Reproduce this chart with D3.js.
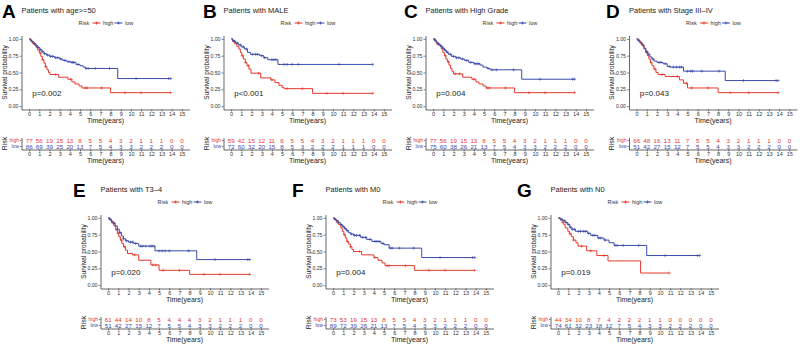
<!doctype html>
<html lang="en">
<head>
<meta charset="utf-8">
<title>KM panels</title>
<script src="https://cdn.jsdelivr.net/npm/d3@7/dist/d3.min.js"></script>
<style>
  body { margin: 0; background: #fff; }
  svg { display: block; font-family: "Liberation Sans", Arial, sans-serif; }
</style>
</head>
<body>
<svg></svg>
<script>
var width = 800, height = 344;
var red = "#E5392C", blue = "#3B4BAA";

// ---- data ----
var letters = ["A", "B", "C", "D", "E", "F", "G"];
var titles = ["Patients with age>=50", "Patients with MALE", "Patients with High Grade",
  "Patients with Stage III\u2013IV", "Patients with T3\u20134", "Patients with M0", "Patients with N0"];
var pvals = ["p=0.002", "p<0.001", "p=0.004", "p=0.043", "p=0.020", "p=0.004", "p=0.019"];
var timeTicks = d3.range(0, 16);

// survival steps [time, survival] per panel
var highA = [[0,1],[0.15,0.97],[0.3,0.94],[0.5,0.91],[0.7,0.87],[0.85,0.83],[1.0,0.79],[1.15,0.74],[1.3,0.69],[1.45,0.64],[1.6,0.59],[1.75,0.54],[1.9,0.50],[2.05,0.47],[2.9,0.43],[3.8,0.40],[4.2,0.36],[4.5,0.33],[4.9,0.30],[5.2,0.27],[8.0,0.20],[13.9,0.20]];
var lowA = [[0,1],[0.1,0.98],[0.25,0.96],[0.45,0.93],[0.65,0.90],[0.85,0.87],[1.05,0.84],[1.25,0.81],[1.45,0.78],[1.7,0.76],[2.0,0.74],[2.5,0.72],[3.0,0.70],[3.3,0.68],[3.7,0.66],[4.1,0.65],[4.6,0.62],[5.0,0.60],[5.3,0.58],[5.55,0.56],[8.7,0.41],[13.9,0.41]];
var censHighA = [0.4,1.1,1.3,1.6,2.6,4.1,5.5,5.7,7.1,9.4,11.0,13.9];
var censLowA = [0.2,0.5,0.7,0.9,1.1,1.3,1.5,1.8,2.1,2.3,2.6,2.8,3.1,3.5,3.9,4.2,4.3,4.4,4.8,5.6,5.8,6.5,7.9,10.5,13.7,13.9];

var highB = [[0,1],[0.15,0.96],[0.35,0.93],[0.55,0.89],[0.75,0.85],[0.9,0.80],[1.05,0.75],[1.2,0.70],[1.4,0.65],[1.55,0.60],[1.75,0.55],[1.95,0.49],[2.9,0.42],[3.9,0.39],[4.3,0.35],[4.7,0.31],[5.0,0.28],[5.2,0.26],[8.0,0.19],[13.9,0.19]];
var lowB = [[0,1],[0.15,0.97],[0.4,0.94],[0.7,0.91],[1.0,0.88],[1.3,0.85],[1.6,0.80],[1.9,0.77],[2.8,0.75],[3.2,0.72],[3.6,0.69],[4.6,0.62],[13.9,0.62]];
var censHighB = [0.3,1.1,1.4,1.7,2.7,4.0,5.5,7.0,9.4,11.0,13.9];
var censLowB = [0.3,0.6,0.9,1.2,1.5,2.1,2.4,2.6,3.0,3.3,4.0,4.2,4.4,5.2,5.5,6.0,6.6,10.6,13.9];

var highC = [[0,1],[0.2,0.96],[0.35,0.93],[0.6,0.90],[0.8,0.85],[0.95,0.80],[1.1,0.75],[1.25,0.70],[1.4,0.66],[1.55,0.61],[1.7,0.56],[1.85,0.52],[2.0,0.48],[2.9,0.43],[3.8,0.40],[4.2,0.36],[4.5,0.33],[4.9,0.30],[5.2,0.27],[8.0,0.20],[13.9,0.20]];
var lowC = [[0,1],[0.1,0.98],[0.3,0.95],[0.5,0.92],[0.7,0.89],[0.9,0.86],[1.1,0.83],[1.3,0.80],[1.5,0.77],[1.8,0.74],[2.2,0.72],[2.7,0.70],[3.1,0.68],[3.5,0.65],[4.0,0.63],[4.6,0.61],[4.9,0.58],[5.3,0.56],[5.6,0.54],[8.7,0.40],[13.9,0.40]];
var censHighC = [0.4,1.2,1.5,2.2,2.6,4.0,5.3,5.5,7.1,9.4,11.0,13.9];
var censLowC = [0.2,0.5,0.8,1.0,1.2,1.4,1.7,2.0,2.3,2.5,2.9,3.3,3.7,4.1,4.3,4.5,5.4,5.8,6.2,7.9,10.5,13.7,13.9];

var highD = [[0,1],[0.15,0.97],[0.35,0.94],[0.55,0.90],[0.75,0.85],[0.9,0.80],[1.05,0.75],[1.2,0.70],[1.35,0.65],[1.5,0.60],[1.7,0.55],[1.9,0.50],[2.1,0.47],[2.8,0.44],[4.2,0.39],[4.6,0.34],[5.0,0.27],[8.0,0.20],[13.9,0.20]];
var lowD = [[0,1],[0.1,0.98],[0.3,0.95],[0.5,0.91],[0.7,0.86],[0.9,0.81],[1.1,0.77],[1.3,0.73],[1.5,0.70],[1.7,0.67],[2.0,0.65],[2.6,0.63],[3.0,0.59],[3.3,0.58],[4.6,0.52],[8.7,0.38],[13.9,0.38]];
var censHighD = [0.4,1.0,1.4,1.8,2.5,4.0,4.9,5.4,7.0,9.2,11.0,13.9];
var censLowD = [0.2,0.6,1.0,1.2,1.6,2.2,2.4,2.8,3.2,3.6,3.9,4.2,4.4,5.0,5.3,5.5,6.4,8.1,10.5,13.7,13.9];

var highE = [[0,1],[0.15,0.97],[0.35,0.93],[0.55,0.88],[0.75,0.82],[0.9,0.77],[1.05,0.72],[1.2,0.67],[1.35,0.62],[1.5,0.57],[1.7,0.52],[1.9,0.47],[2.4,0.45],[3.0,0.37],[4.2,0.30],[5.0,0.22],[8.0,0.16],[13.9,0.16]];
var lowE = [[0,1],[0.1,0.98],[0.3,0.95],[0.5,0.92],[0.7,0.88],[0.9,0.83],[1.1,0.78],[1.3,0.73],[1.5,0.69],[1.7,0.66],[2.0,0.64],[2.5,0.62],[3.0,0.58],[4.6,0.51],[8.7,0.38],[13.9,0.38]];
var censHighE = [0.4,1.0,1.3,1.6,2.6,4.4,4.7,5.4,7.0,9.4,11.0,13.9];
var censLowE = [0.2,0.6,0.9,1.2,1.5,1.8,2.2,2.4,2.7,3.2,3.4,3.7,4.1,4.3,4.5,5.0,5.3,5.6,6.0,7.9,10.5,13.7,13.9];

var highF = [[0,1],[0.15,0.97],[0.35,0.94],[0.55,0.90],[0.75,0.85],[0.9,0.80],[1.05,0.75],[1.2,0.70],[1.35,0.65],[1.5,0.61],[1.7,0.57],[1.85,0.53],[2.0,0.50],[2.8,0.45],[4.0,0.41],[4.4,0.37],[4.8,0.33],[5.1,0.29],[8.0,0.22],[13.9,0.22]];
var lowF = [[0,1],[0.1,0.98],[0.3,0.96],[0.5,0.93],[0.7,0.90],[0.9,0.87],[1.1,0.84],[1.3,0.81],[1.5,0.78],[1.7,0.76],[2.0,0.74],[2.7,0.71],[3.3,0.68],[3.8,0.65],[4.7,0.62],[5.0,0.60],[5.5,0.55],[8.7,0.41],[13.9,0.41]];
var censHighF = [0.4,1.1,1.4,1.7,2.6,4.1,5.3,5.5,7.1,9.4,11.0,13.9];
var censLowF = [0.2,0.5,0.8,1.0,1.2,1.4,1.8,2.1,2.3,2.6,2.9,3.2,3.6,4.1,4.3,4.5,4.9,5.6,5.8,6.5,7.9,10.5,13.7,13.9];

var highG = [[0,1],[0.2,0.97],[0.4,0.93],[0.55,0.90],[0.7,0.85],[0.95,0.80],[1.1,0.76],[1.3,0.72],[1.5,0.67],[1.75,0.63],[1.95,0.58],[2.8,0.51],[3.8,0.44],[4.9,0.36],[8.1,0.18],[10.9,0.18]];
var lowG = [[0,1],[0.2,0.98],[0.45,0.96],[0.7,0.93],[0.95,0.90],[1.15,0.86],[1.35,0.83],[1.7,0.80],[2.9,0.77],[3.2,0.74],[3.9,0.70],[4.5,0.67],[5.0,0.63],[5.5,0.59],[8.7,0.44],[13.9,0.44]];
var censHighG = [0.5,1.2,1.5,2.3,3.2,4.5,10.9];
var censLowG = [0.3,0.6,0.8,1.0,1.2,1.4,1.6,2.0,2.2,2.5,2.7,3.0,3.4,3.6,4.0,4.2,4.6,5.6,5.8,6.4,7.9,10.5,13.7,13.9];

// number at risk, times 0..15
var riskHighA = [77,56,19,15,13,8,5,5,4,3,2,1,1,1,0,0];
var riskLowA  = [86,69,39,25,20,13,7,5,4,3,3,2,2,2,0,0];
var riskHighB = [59,42,15,12,11,6,5,5,4,3,2,1,1,1,0,0];
var riskLowB  = [72,60,32,20,15,8,5,3,2,2,2,1,1,1,0,0];
var riskHighC = [77,56,19,15,13,8,5,5,4,3,2,1,1,1,0,0];
var riskLowC  = [75,60,38,26,21,13,7,5,4,3,3,2,2,2,0,0];
var riskHighD = [66,48,16,13,11,7,5,5,4,3,2,1,1,1,0,0];
var riskLowD  = [51,42,27,15,12,7,5,5,4,3,3,2,2,2,0,0];
var riskHighE = [61,44,14,10,8,5,4,4,4,3,2,1,1,1,0,0];
var riskLowE  = [51,42,27,15,12,7,5,5,4,3,3,2,2,2,0,0];
var riskHighF = [73,53,19,15,13,8,5,5,4,3,2,1,1,1,0,0];
var riskLowF  = [89,72,39,26,21,13,7,5,4,3,3,2,2,2,0,0];
var riskHighG = [44,34,10,8,7,4,2,2,2,1,1,0,0,0,0,0];
var riskLowG  = [74,61,32,23,18,12,7,5,4,3,3,2,2,2,0,0];

var highs = [highA, highB, highC, highD, highE, highF, highG];
var lows = [lowA, lowB, lowC, lowD, lowE, lowF, lowG];
var censHighs = [censHighA, censHighB, censHighC, censHighD, censHighE, censHighF, censHighG];
var censLows = [censLowA, censLowB, censLowC, censLowD, censLowE, censLowF, censLowG];
var riskHighs = [riskHighA, riskHighB, riskHighC, riskHighD, riskHighE, riskHighF, riskHighG];
var riskLows = [riskLowA, riskLowB, riskLowC, riskLowD, riskLowE, riskLowF, riskLowG];

// layout: y-axis x position, row top, letter x
var axXs = [21.5, 223.5, 425.5, 629, 100.5, 325.5, 550.5];
var rowTops = [0, 0, 0, 0, 179, 179, 179];
var letterXs = [2, 203, 404, 606, 73, 292, 517];

var svg = d3.select("svg").attr("width", width).attr("height", height);

function survAt(steps, t) {
  var s = 1;
  steps.forEach(function (d) { if (d[0] <= t) s = d[1]; });
  return s;
}

function styleAxis(g, fs) {
  g.select(".domain").attr("stroke", "#000").attr("stroke-width", 0.6);
  g.selectAll(".tick line").attr("stroke", "#000").attr("stroke-width", 0.5);
  g.selectAll(".tick text").attr("fill", "#333").attr("font-size", fs).attr("font-family", "Liberation Sans, Arial, sans-serif");
}

letters.forEach(function (letter, i) {
  var ax = axXs[i], ty = rowTops[i];
  var g = svg.append("g");

  var x = d3.scaleLinear().domain([-0.75, 15.75]).range([ax, ax + 168]);
  var y = d3.scaleLinear().domain([-0.05, 1.05]).range([ty + 109.5, ty + 35.5]);

  // letter + title
  g.append("text").attr("x", letterXs[i]).attr("y", ty + 17.5)
    .attr("font-size", 19).attr("font-weight", "bold").attr("fill", "#000").text(letter);
  g.append("text").attr("x", ax).attr("y", ty + 12.5)
    .attr("font-size", 7.5).attr("fill", "#222").text(titles[i]);

  // legend
  var ly = ty + 23;
  g.append("text").attr("x", ax + 57).attr("y", ly + 2).attr("font-size", 5.5).attr("fill", "#333").text("Risk");
  [[red, "high", 71], [blue, "low", 93]].forEach(function (l) {
    g.append("line").attr("x1", ax + l[2]).attr("x2", ax + l[2] + 8).attr("y1", ly).attr("y2", ly)
      .attr("stroke", l[0]).attr("stroke-width", 1);
    g.append("path").attr("d", "M-1.6,0h3.2M0,-1.6v3.2")
      .attr("transform", "translate(" + (ax + l[2] + 4) + "," + ly + ")")
      .attr("stroke", l[0]).attr("stroke-width", 0.7);
    g.append("text").attr("x", ax + l[2] + 10.5).attr("y", ly + 2).attr("font-size", 5.5).attr("fill", "#333").text(l[1]);
  });

  // axes
  var yAxis = d3.axisLeft(y).tickValues([0, 0.25, 0.5, 0.75, 1]).tickFormat(d3.format(".2f"))
    .tickSize(2).tickSizeOuter(0).tickPadding(1);
  var gy = g.append("g").attr("transform", "translate(" + ax + ",0)").call(yAxis);
  styleAxis(gy, 5.2);

  var xAxis = d3.axisBottom(x).tickValues(timeTicks).tickSize(2).tickSizeOuter(0).tickPadding(0.5);
  var gx = g.append("g").attr("transform", "translate(0," + (ty + 109.5) + ")").call(xAxis);
  styleAxis(gx, 5.5);

  g.append("text").attr("x", ax + 84).attr("y", ty + 122.5).attr("text-anchor", "middle")
    .attr("font-size", 7).attr("fill", "#222").text("Time(years)");
  g.append("text").attr("transform", "translate(" + (ax - 15) + "," + (ty + 72.5) + ") rotate(-90)")
    .attr("text-anchor", "middle").attr("font-size", 6.5).attr("fill", "#222").text("Survival probability");

  // curves
  var line = d3.line().x(function (d) { return x(d[0]); }).y(function (d) { return y(d[1]); })
    .curve(d3.curveStepAfter);
  [[highs[i], censHighs[i], red], [lows[i], censLows[i], blue]].forEach(function (c) {
    g.append("path").datum(c[0]).attr("d", line).attr("fill", "none")
      .attr("stroke", c[2]).attr("stroke-width", 1);
    g.selectAll(null).data(c[1]).enter().append("path")
      .attr("d", "M-1.5,0h3M0,-1.5v3")
      .attr("transform", function (t) { return "translate(" + x(t) + "," + y(survAt(c[0], t)) + ")"; })
      .attr("stroke", c[2]).attr("stroke-width", 0.6);
  });

  // p value
  g.append("text").attr("x", x(0.3)).attr("y", y(0.2) + 3).attr("font-size", 8).attr("fill", "#222").text(pvals[i]);

  // risk table
  var ry = d3.scaleBand().domain(["high", "low"]).range([ty + 137.5, ty + 149.5]);
  var gr = g.append("g").attr("transform", "translate(" + ax + ",0)")
    .call(d3.axisLeft(ry).tickSize(1.5).tickSizeOuter(0).tickPadding(1));
  styleAxis(gr, 5);
  gr.selectAll(".tick text").attr("fill", function (d) { return d === "high" ? red : blue; });

  var grx = g.append("g").attr("transform", "translate(0," + (ty + 149.5) + ")")
    .call(d3.axisBottom(x).tickValues(timeTicks).tickSize(2).tickSizeOuter(0).tickPadding(0.5));
  styleAxis(grx, 5.5);

  [["high", riskHighs[i], red], ["low", riskLows[i], blue]].forEach(function (r) {
    g.selectAll(null).data(r[1]).enter().append("text")
      .attr("x", function (d, k) { return x(timeTicks[k]); })
      .attr("y", ry(r[0]) + ry.bandwidth() / 2 + 2.2)
      .attr("text-anchor", "middle").attr("font-size", 6.2).attr("fill", r[2])
      .text(function (d) { return d; });
  });

  g.append("text").attr("x", ax + 84).attr("y", ty + 162.5).attr("text-anchor", "middle")
    .attr("font-size", 7).attr("fill", "#222").text("Time(years)");
  g.append("text").attr("transform", "translate(" + (ax - 15) + "," + (ty + 143.5) + ") rotate(-90)")
    .attr("text-anchor", "middle").attr("font-size", 7).attr("fill", "#222").text("Risk");
});
</script>
</body>
</html>
